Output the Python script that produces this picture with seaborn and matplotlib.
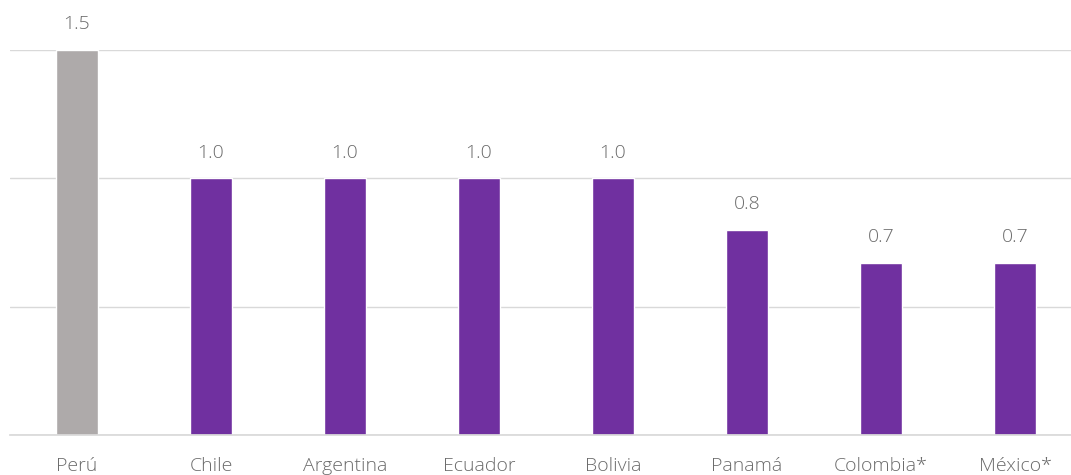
import matplotlib
matplotlib.use("Agg")
import matplotlib.pyplot as plt
import seaborn as sns
import pandas as pd

countries = ["Perú", "Chile", "Argentina", "Ecuador", "Bolivia", "Panamá", "Colombia*", "México*"]
values = [1.5, 1.0, 1.0, 1.0, 1.0, 0.8, 0.67, 0.67]
colors = ["#AEAAAA", "#7030A0", "#7030A0", "#7030A0", "#7030A0", "#7030A0", "#7030A0", "#7030A0"]

sns.set_theme(style="white")
plt.rcParams["font.family"] = ["Open Sans", "DejaVu Sans"]

df = pd.DataFrame({"country": countries, "value": values})

fig = plt.figure(figsize=(10.71, 4.75), dpi=100)
ax = fig.add_axes([10/1071, 40/475, 1061/1071, 385/475])
sns.barplot(data=df, x="country", y="value", hue="country", palette=colors,
            legend=False, width=0.32, ax=ax, saturation=1)

ax.set_ylim(0, 1.5)
ax.set_xlim(-0.5, -0.5 + 1061/134)
ax.set_yticks([0, 0.5, 1.0, 1.5])
ax.yaxis.grid(True, color="#D9D9D9", linewidth=1)
ax.set_axisbelow(True)
ax.set_yticklabels([])
ax.tick_params(axis="y", length=0)
ax.tick_params(axis="x", length=0, pad=16, labelsize=14, labelcolor="#6B6B6B")
for lbl in ax.get_xticklabels():
    lbl.set_fontweight("light")
for s in ["top", "right", "left"]:
    ax.spines[s].set_visible(False)
ax.spines["bottom"].set_color("#D9D9D9")
ax.set_xlabel("")
ax.set_ylabel("")

for i, v in enumerate(values):
    ax.annotate(f"{v:.1f}", (i, v), xytext=(0, 12), textcoords="offset points",
                ha="center", va="bottom", fontsize=14, color="#6B6B6B",
                fontweight="light", annotation_clip=False)

fig.savefig("out.png", dpi=100)
